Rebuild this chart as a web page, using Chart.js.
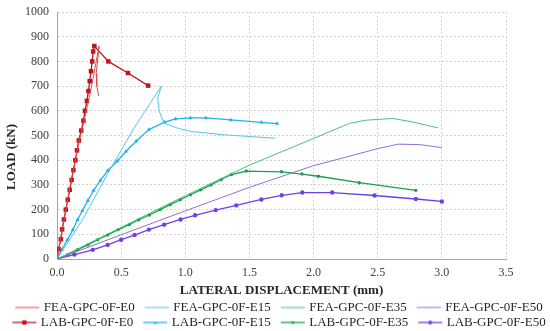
<!DOCTYPE html>
<html>
<head>
<meta charset="utf-8">
<script src="https://cdn.jsdelivr.net/npm/chart.js@4"></script>
<style>
  html, body { margin: 0; padding: 0; background: #fff; }
  #wrap { width: 550px; height: 331px; }
</style>
</head>
<body>
<div id="wrap"><canvas id="chart"></canvas></div>
<script>
// displacement (mm) / load (kN)
const feaE0X = [0, 0.1, 0.17, 0.22, 0.27, 0.328, 0.318, 0.305, 0.31, 0.325]
const feaE0Y = [0, 290, 470, 580, 700, 862, 810, 750, 700, 660]
const feaE15X = [0, 0.2, 0.4, 0.6, 0.814, 0.784, 0.797, 0.833, 0.95, 1.054, 1.3, 1.5, 1.7]
const feaE15Y = [0, 160, 350, 530, 700, 652, 598, 550, 528, 516, 503, 496, 489]
const feaE35X = [0, 0.5, 1.0, 1.5, 2.0, 2.28, 2.41, 2.62, 2.76, 2.97]
const feaE35Y = [0, 128, 256, 380, 488, 549, 562, 569, 556, 531]
const feaE50X = [0, 0.5, 1.0, 1.5, 2.0, 2.25, 2.5, 2.66, 2.83, 3.0]
const feaE50Y = [0, 98, 195, 290, 378, 412, 447, 465, 463, 451]

const labE0X = [0, 0.012, 0.03, 0.04, 0.054, 0.069, 0.084, 0.099, 0.114, 0.128, 0.143, 0.156, 0.17, 0.189,
    0.206, 0.218, 0.233, 0.245, 0.255, 0.265, 0.274, 0.282, 0.291, 0.4, 0.553, 0.71]
const labE0Y = [0, 40, 80, 120, 160, 200, 240, 280, 320, 360, 400, 440, 480, 520,
    560, 600, 640, 680, 720, 760, 800, 840, 862, 800, 753, 702]
const labE15X = [0, 0.037, 0.081, 0.123, 0.16, 0.198, 0.24, 0.284, 0.338, 0.395, 0.469, 0.538, 0.617, 0.716,
    0.838, 0.924, 1.04, 1.16, 1.355, 1.593, 1.716]
const labE15Y = [0, 38, 78, 118, 159, 196, 236, 277, 318, 358, 396, 436, 477, 524,
    554, 567, 571, 571, 563, 553, 548]
const labE35X = [0, 0.086, 0.16, 0.24, 0.316, 0.395, 0.477, 0.563, 0.637, 0.72, 0.804, 0.882, 0.96, 1.04,
    1.12, 1.2, 1.28, 1.36, 1.475, 1.75, 1.91, 2.037, 2.356, 2.797]
const labE35Y = [0, 18, 38, 57, 78, 97, 119, 139, 159, 178, 200, 220, 240, 260,
    280, 300, 322, 342, 356, 353, 344, 335, 309, 278]
const labE50X = [0, 0.136, 0.279, 0.395, 0.5, 0.605, 0.716, 0.835, 0.963, 1.076, 1.237, 1.397, 1.593, 1.752,
    1.912, 2.145, 2.475, 2.797, 3.0]
const labE50Y = [0, 18, 37, 57, 78, 97, 119, 139, 160, 177, 198, 217, 241, 258,
    269, 269, 257, 243, 233]

const serif = "'Liberation Serif', 'Times New Roman', serif"

function pts(xs, ys) {
    return xs.map((x, i) => ({ x: x, y: ys[i] }))
}

// legend sample: line with optional marker, wider than the legend box
// so the label text sits close to the end of the line
function swatch(color, width, marker, size) {
    const c = document.createElement('canvas')
    c.width = 44
    c.height = 10
    const g = c.getContext('2d')
    g.strokeStyle = color
    g.lineWidth = width
    g.beginPath()
    g.moveTo(15, 5)
    g.lineTo(39, 5)
    g.stroke()
    g.fillStyle = color
    const mx = 27
    if (marker === 'rect') {
        g.fillRect(mx - size, 5 - size, size * 2, size * 2)
    } else if (marker === 'triangle') {
        g.beginPath()
        g.moveTo(mx, 5 - size)
        g.lineTo(mx + size, 5 + size)
        g.lineTo(mx - size, 5 + size)
        g.fill()
    } else if (marker === 'circle') {
        g.beginPath()
        g.arc(mx, 5, size, 0, Math.PI * 2)
        g.fill()
    }
    return c
}

function fea(label, xs, ys, color) {
    return {
        label: label,
        data: pts(xs, ys),
        showLine: true,
        borderColor: color,
        backgroundColor: color,
        borderWidth: 1,
        pointRadius: 0,
        tension: 0,
        legendSwatch: swatch(color, 1, null, 0)
    }
}

function lab(label, xs, ys, color, style, radius, mark) {
    return {
        label: label,
        data: pts(xs, ys),
        showLine: true,
        borderColor: color,
        backgroundColor: color,
        borderWidth: 1.3,
        pointStyle: style,
        pointRadius: radius,
        pointBorderWidth: 0,
        tension: 0,
        legendSwatch: swatch(color, 1.3, style, mark)
    }
}

const datasets = [
    fea('FEA-GPC-0F-E0', feaE0X, feaE0Y, '#dc4a4a'),
    fea('FEA-GPC-0F-E15', feaE15X, feaE15Y, '#55c3ee'),
    fea('FEA-GPC-0F-E35', feaE35X, feaE35Y, '#47c283'),
    fea('FEA-GPC-0F-E50', feaE50X, feaE50Y, '#976bd2'),
    lab('LAB-GPC-0F-E0', labE0X, labE0Y, '#c0151e', 'rect', 3.2, 2.2),
    lab('LAB-GPC-0F-E15', labE15X, labE15Y, '#22b2e6', 'triangle', 2.4, 1.6),
    lab('LAB-GPC-0F-E35', labE35X, labE35Y, '#17a04b', 'circle', 1.7, 1.5),
    lab('LAB-GPC-0F-E50', labE50X, labE50Y, '#7040e6', 'circle', 2.2, 2)
]

// the y title sits a little below the middle of the axis in the original
const yTitle = {
    id: 'yTitle',
    afterDraw(chart) {
        const c = chart.ctx
        c.save()
        c.translate(12, 157)
        c.rotate(-Math.PI / 2)
        c.font = 'bold 13px ' + serif
        c.fillStyle = '#262626'
        c.textAlign = 'center'
        c.textBaseline = 'middle'
        c.fillText('LOAD (kN)', 0, 0)
        c.restore()
    }
}

const ctx = document.getElementById('chart')
const myChart = new Chart(ctx, {
    type: 'scatter',
    data: { datasets: datasets },
    plugins: [yTitle],
    options: {
        responsive: true,
        maintainAspectRatio: false,
        animation: false,
        layout: { padding: { left: 0, right: 0, top: 0, bottom: -8 } },
        plugins: {
            tooltip: { enabled: false },
            legend: {
                position: 'bottom',
                labels: {
                    usePointStyle: true,
                    pointStyleWidth: 30,
                    padding: 2,
                    color: '#262626',
                    font: { family: serif, size: 13 },
                    generateLabels: (chart) => chart.data.datasets.map((ds, i) => ({
                        text: ds.label,
                        pointStyle: ds.legendSwatch,
                        fillStyle: ds.borderColor,
                        strokeStyle: ds.borderColor,
                        fontColor: '#262626',
                        lineWidth: 0,
                        hidden: false,
                        datasetIndex: i
                    }))
                }
            }
        },
        scales: {
            x: {
                type: 'linear',
                min: 0,
                max: 3.5,
                ticks: {
                    stepSize: 0.5,
                    padding: 7,
                    color: '#404040',
                    font: { family: serif, size: 12 },
                    callback: (v) => v.toFixed(1)
                },
                grid: { color: '#d4d4d4', drawTicks: false },
                border: { color: '#a6a6a6', dash: [2, 2] },
                title: {
                    display: true,
                    text: 'LATERAL DISPLACEMENT (mm)',
                    color: '#262626',
                    font: { family: serif, size: 13, weight: 'bold' },
                    padding: { top: -5, bottom: 1 }
                }
            },
            y: {
                type: 'linear',
                min: 0,
                max: 1000,
                ticks: {
                    stepSize: 100,
                    padding: 8,
                    color: '#404040',
                    font: { family: serif, size: 12 },
                    callback: (v) => String(v)
                },
                grid: { color: '#d4d4d4', drawTicks: false },
                border: { color: '#a6a6a6', dash: [2, 2] },
                afterFit: (scale) => {
                    scale.width = 57
                    scale.paddingTop = 12
                }
            },
            // empty right-hand axis, only keeps room after the 3.5 label
            yRight: {
                type: 'linear',
                position: 'right',
                min: 0,
                max: 1000,
                ticks: { display: false },
                grid: { drawOnChartArea: false, drawTicks: false },
                border: { display: false },
                afterFit: (scale) => { scale.width = 44 }
            }
        }
    }
})
</script>
</body>
</html>
